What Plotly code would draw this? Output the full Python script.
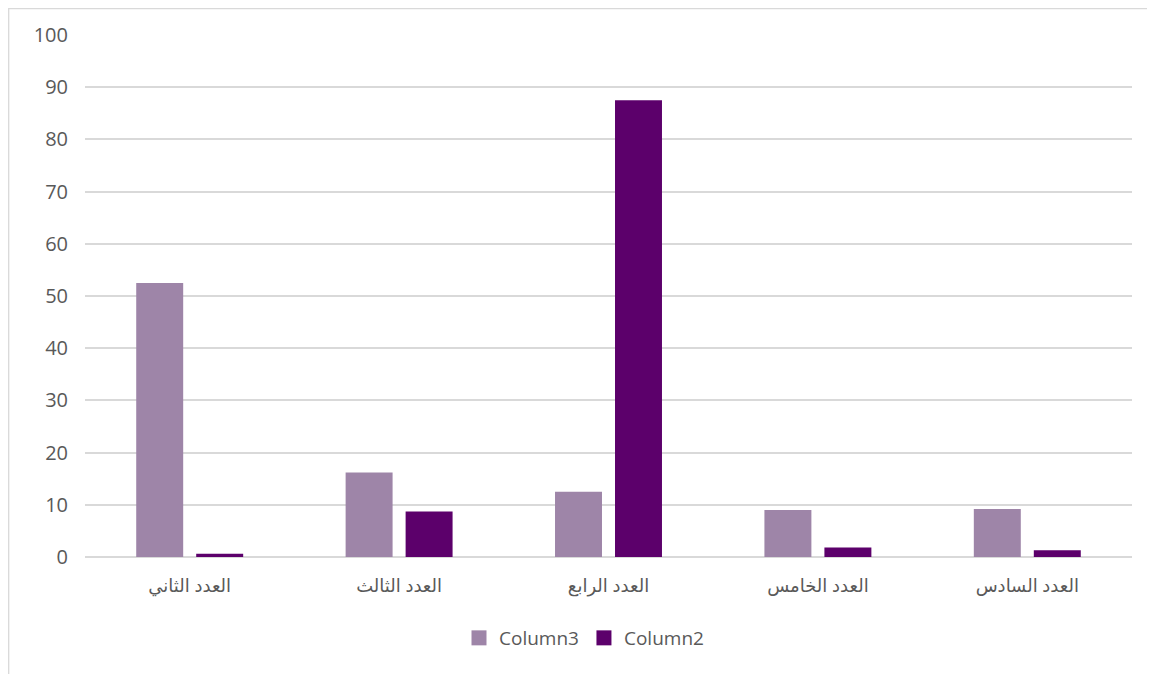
import plotly.graph_objects as go

categories = ["العدد الثاني", "العدد الثالث", "العدد الرابع", "العدد الخامس", "العدد السادس"]
column3 = [52.5, 16.2, 12.5, 9.0, 9.2]
column2 = [0.6, 8.7, 87.5, 1.8, 1.3]
y_ticks = [0, 10, 20, 30, 40, 50, 60, 70, 80, 90, 100]
series_names = ["Column3", "Column2"]
series_colors = ["#9E85A8", "#5C006B"]

fig = go.Figure()
for name, vals, col in zip(series_names, [column3, column2], series_colors):
    fig.add_trace(go.Bar(x=categories, y=vals, name=name, showlegend=False,
                         marker=dict(color=col, line=dict(width=0))))
# legend entries with square markers
for name, col in zip(series_names, series_colors):
    fig.add_trace(go.Scatter(x=[None], y=[None], mode="markers", name=name,
                             marker=dict(symbol="square", size=15, color=col)))

# page has an 8px body offset
OFF = 8
W, H = 1155 - OFF, 674 - OFF
ml, mr, mt, mb = 85 - OFF, 23, 35 - OFF, 117
pw, ph = W - ml - mr, H - mt - mb

def px_x(v):
    return (v - OFF - ml) / pw

def px_y(v):
    return (H - mb - (v - OFF)) / ph

fig.update_layout(
    width=W, height=H,
    margin=dict(l=ml, r=mr, t=mt, b=mb),
    paper_bgcolor="white", plot_bgcolor="white",
    barmode="group", bargap=0.427, bargroupgap=0.217,
    font=dict(family="Open Sans, DejaVu Sans, sans-serif", color="#595959", size=18),
    legend=dict(orientation="h", x=px_x(584), xanchor="center", y=px_y(638), yanchor="middle",
                font=dict(size=19, color="#595959"), itemwidth=30, traceorder="normal"),
    showlegend=True,
    shapes=[dict(type="rect", xref="paper", yref="paper",
                 x0=px_x(8.7), x1=px_x(1170), y0=px_y(690), y1=px_y(8.7),
                 line=dict(color="#D9D9D9", width=1.3), fillcolor="rgba(0,0,0,0)", layer="below")],
)
fig.update_xaxes(showgrid=False, showline=False, ticks="", tickfont=dict(size=18, color="#595959"),
                 ticklabelstandoff=16)
fig.update_yaxes(range=[0, 100], tickvals=y_ticks, showgrid=True, gridcolor="#D9D9D9", gridwidth=1.5,
                 zeroline=True, zerolinecolor="#D9D9D9", zerolinewidth=1.5, showline=False,
                 tickfont=dict(size=20, color="#595959"), ticks="", ticklabelstandoff=16)

fig.write_html("out.html")
